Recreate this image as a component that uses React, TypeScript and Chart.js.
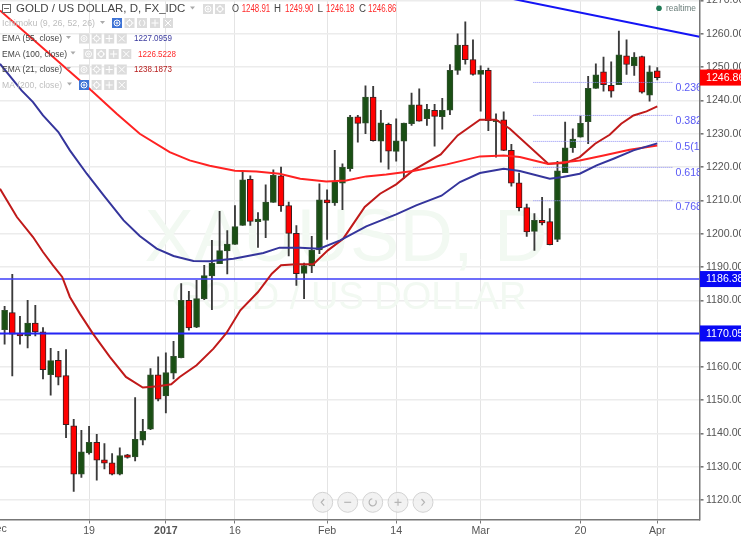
import React, { useEffect, useRef } from "react";
import { Chart, registerables } from "chart.js";

Chart.register(...registerables);

const opens = [1171.2,1176.3,1170,1169.3,1173.2,1170.5,1157.7,1162,1157.4,1142.3,1127.8,1134.2,1137.4,1132.1,1131.2,1127.8,1133.6,1133,1138,1141.3,1157.6,1151.3,1158.1,1162.8,1180,1171.9,1180.5,1187.3,1191,1194.8,1196.8,1202.5,1216.3,1203.6,1204,1209.4,1217.4,1208.4,1200.1,1188.1,1190.3,1195.1,1210.2,1209.2,1215.2,1219.5,1235.1,1233.2,1241,1227.8,1232.8,1224.7,1227.8,1233,1238.7,1234.5,1237,1235.1,1237.1,1249,1256.6,1252.3,1247.8,1249,1233.6,1234.2,1225,1215.3,1207.8,1200.7,1204,1203.6,1198.3,1218.3,1225.8,1229,1233.6,1243.6,1248.6,1244.5,1244.7,1253.4,1250.4,1253.2,1241.6,1248.91];
const closes = [1177,1169.8,1169.3,1173.2,1170.5,1159.2,1161.9,1156.9,1142.7,1127.8,1134.5,1137.4,1132,1131.1,1127.8,1133.4,1132.8,1138.3,1140.7,1157.6,1150.3,1158.3,1163.2,1180,1171.7,1180.5,1187.4,1191.2,1194.9,1196.9,1202.1,1216.2,1203.7,1204.4,1209.5,1217.5,1208.3,1200.1,1188,1190.4,1195,1210.2,1209.2,1215.5,1219.9,1235,1233.1,1241,1227.9,1233.3,1224.8,1227.9,1233.2,1238.7,1233.8,1237.3,1235.2,1237,1249,1256.6,1252.2,1247.8,1249,1233.9,1234.1,1225,1215.2,1207.8,1200.5,1204,1203.2,1196.7,1218.9,1225.8,1228.4,1233.1,1243.6,1247.7,1244.7,1242.8,1253.7,1250.8,1253,1242.5,1248.6,1246.86];
const highs = [1178.2,1187.8,1175.2,1180,1178.5,1171.8,1165.6,1164.7,1165.2,1144.3,1141,1142.2,1139.8,1137,1134,1135.7,1133.8,1150.8,1144.3,1159.5,1163,1164.2,1167.7,1185,1182.7,1186,1190.5,1198,1206.7,1200.9,1208.4,1218.8,1217.4,1206.3,1214.7,1219.2,1220,1209.5,1202.4,1191.2,1199.2,1215,1213.2,1225,1221,1235.5,1235.5,1244.4,1244.2,1237,1233.2,1234.5,1233.2,1242.2,1243.5,1238.8,1238.8,1240.6,1250.8,1260,1263.6,1258.2,1250.4,1249.7,1236,1236.6,1226.8,1218.2,1208.9,1206,1210.9,1207.5,1221.7,1233.5,1231.5,1235.3,1247.2,1251,1253,1251.6,1260.8,1258.2,1254.4,1253.3,1250.4,1249.9];
const lows = [1166.8,1157.3,1166.8,1165.7,1169.3,1156.4,1151.5,1154.6,1138.8,1122.6,1126.8,1133.8,1126,1129.4,1127.6,1127.6,1132.6,1131.8,1136.6,1141.2,1149.8,1146.2,1156.4,1162.7,1171,1171.8,1180.2,1177.2,1191,1187.9,1196.8,1202.5,1202.5,1195.9,1198.8,1209.4,1206.7,1193.3,1184.5,1180.5,1188.3,1194,1198.3,1208.5,1207.2,1218.8,1227.5,1230,1227.8,1221.5,1219.4,1221.8,1216.6,1232.5,1233.8,1232.5,1226.3,1231.4,1235.7,1247.8,1250.9,1247.6,1236.8,1230.9,1223,1224.9,1214.3,1206.8,1199.2,1195,1202.6,1196.6,1197.6,1218.3,1224.4,1229,1227,1243.6,1242.8,1241,1244.7,1247.8,1247.5,1242.2,1239.8,1246.18];

const ema21Days = [-0.6,1.6,3.7,5,6.3,7.5,8.5,9.8,11.5,13.7,15.8,18,20,21.7,22.8,25,27.2,28.9,30.7,33,34.8,36,38,40.2,42.1,44.1,46.9,48.9,51,53.2,56.8,59,61.9,64,65.8,70.8,73,74.9,76.9,78.8,80.3,81.9,83.6,85];
const ema21Values = [1213.5,1205,1199,1194.5,1190.5,1187,1181,1176,1170,1163,1157,1153.8,1154.2,1154.8,1157,1160.5,1165.5,1170.2,1177,1182.5,1188,1190.5,1190.8,1190.8,1195,1198.5,1208,1212,1214.8,1219,1223.8,1229.5,1234.2,1234.2,1231.5,1221,1221.2,1223,1227,1229.7,1233,1235.5,1236.7,1238.2];
const ema55Days = [-0.6,2.2,3.7,5,7,8.5,10.7,12.9,15.5,17.6,19.8,22,24.6,26.7,29.8,33.7,35.8,38.5,41,43.7,47.1,51,53.6,56.9,59.3,61.9,65,67.1,71,72.7,74.9,77.1,79.3,81.9,85];
const ema55Values = [1251,1243,1239.5,1235.5,1230.5,1225,1218,1211.5,1204,1199.3,1195.5,1193.3,1191.8,1191.7,1192.5,1194.2,1195.8,1195.8,1195.5,1198,1202.2,1205.8,1208.5,1211.4,1215.5,1218.2,1219.5,1218.8,1216.5,1217,1218,1220.5,1222.5,1225,1227.1];
const ema100Days = [-0.6,11.3,14.6,17.6,21.5,24.1,26.7,30,32.8,35.8,38.5,41.9,44.5,47.1,49.7,53.2,57.6,61.9,65,67.1,70.8,74.9,78,81.4,85];
const ema100Values = [1267,1243,1236,1230,1224.5,1222,1220.4,1218.9,1218.7,1218,1216.5,1215.7,1216,1217.2,1217.8,1218.8,1220.8,1223.2,1223.5,1223,1220.9,1222,1223.5,1225.2,1226.5];

const hLevels = [1186.38, 1170.05];
const trendDays = [65.8, 90.5];
const trendValues = [1270.66, 1259.1];
const fibDays = [68.86, 86.98];
const fibValues = [1245.4, 1235.5, 1227.7, 1219.9, 1209.9];
const fibLabels = ["0.236", "0.382", "0.5(1", "0.618", "0.768"];

const tickDays = [11, 21, 30, 42, 51, 62, 75, 85];
const tickLabels = ["19", "2017", "16", "Feb", "14", "Mar", "20", "Apr"];
const dayMin = -0.6;
const dayMax = 90.5;
const priceMin = 1114.2;
const priceMax = 1270.15;
const lastPrice = 1246.86;

const FONT = '"Liberation Sans", Arial, sans-serif';
const RED = "#ff0000";
const GREEN = "#1a4f14";

const zip = (xs: number[], ys: number[]) => xs.map((x, i) => ({ x, y: ys[i] }));

function square(c: CanvasRenderingContext2D, x: number, y: number, kind: string, on = false) {
  c.fillStyle = on ? "#3f74d6" : "#dcdcdc";
  c.fillRect(x, y, 10, 10);
  c.strokeStyle = "#fff";
  c.lineWidth = 1;
  c.beginPath();
  const m = x + 5, n = y + 5;
  if (kind === "eye") { c.arc(m, n, 3, 0, 7); c.moveTo(m + 1, n); c.arc(m, n, 1, 0, 7); }
  if (kind === "gear") { c.arc(m, n, 2.6, 0, 7); c.moveTo(m, n - 4); c.lineTo(m, n - 2.5); c.moveTo(m, n + 4); c.lineTo(m, n + 2.5); c.moveTo(m - 4, n); c.lineTo(m - 2.5, n); c.moveTo(m + 4, n); c.lineTo(m + 2.5, n); }
  if (kind === "plus") { c.moveTo(m - 3.5, n); c.lineTo(m + 3.5, n); c.moveTo(m, n - 3.5); c.lineTo(m, n + 3.5); }
  if (kind === "x") { c.moveTo(m - 3, n - 3); c.lineTo(m + 3, n + 3); c.moveTo(m + 3, n - 3); c.lineTo(m - 3, n + 3); }
  if (kind === "br") { c.moveTo(m - 1.5, n - 3); c.lineTo(m - 3, n); c.lineTo(m - 1.5, n + 3); c.moveTo(m + 1.5, n - 3); c.lineTo(m + 3, n); c.lineTo(m + 1.5, n + 3); }
  c.stroke();
}

function txt(c: CanvasRenderingContext2D, s: string, x: number, y: number, font: string, color: string, w?: number) {
  c.font = font;
  c.fillStyle = color;
  c.textAlign = "left";
  c.textBaseline = "middle";
  if (w) c.fillText(s, x, y, w);
  else c.fillText(s, x, y);
}

const arrow = (c: CanvasRenderingContext2D, x: number, y: number) => {
  c.fillStyle = "#aaa";
  c.beginPath();
  c.moveTo(x, y - 1.5);
  c.lineTo(x + 5, y - 1.5);
  c.lineTo(x + 2.5, y + 1.5);
  c.fill();
};

const watermark = {
  id: "watermark",
  beforeDatasetsDraw(chart: any) {
    const c = chart.ctx as CanvasRenderingContext2D;
    c.save();
    c.textAlign = "center";
    c.textBaseline = "alphabetic";
    c.fillStyle = "#f2f9f2";
    c.font = `74px ${FONT}`;
    c.fillText("XAUUSD, D", 346, 261);
    c.font = `38px ${FONT}`;
    c.fillText("GOLD / US DOLLAR", 349, 309);
    c.restore();
  },
};

const overlay = {
  id: "overlay",
  afterDraw(chart: any) {
    const c = chart.ctx as CanvasRenderingContext2D;
    const { x, y } = chart.scales;
    const area = chart.chartArea;
    c.save();

    // fib labels, clipped by the pane
    c.save();
    c.beginPath();
    c.rect(area.left, area.top, area.right - area.left, area.bottom - area.top);
    c.clip();
    fibValues.forEach((v, i) => {
      txt(c, fibLabels[i], 675.5, y.getPixelForValue(v) + 6, `10.6px ${FONT}`, "#5a5af5");
    });
    c.restore();

    // clipped "Dec" tick
    txt(c, "Dec", x.getPixelForValue(-1) - 9, 529, `10.6px ${FONT}`, "#555");

    // price labels
    const tag = (v: number, color: string) => {
      const py = y.getPixelForValue(v);
      c.fillStyle = color;
      c.fillRect(700, py - 8, 41, 16);
      txt(c, v.toFixed(2), 706, py + 0.5, `10.6px ${FONT}`, "#fff");
    };
    hLevels.forEach((v) => tag(v, "#0808f5"));
    tag(lastPrice, "#ff0000");

    // realtime
    c.fillStyle = "#1f7a55";
    c.beginPath();
    c.arc(659, 8.3, 2.8, 0, 7);
    c.fill();
    txt(c, "realtime", 666, 8.5, `9.5px ${FONT}`, "#6a7d7a", 30);

    // legend
    c.strokeStyle = "#666";
    c.lineWidth = 1;
    c.strokeRect(2.5, 4.5, 8, 8);
    c.beginPath();
    c.moveTo(4, 8.5);
    c.lineTo(9, 8.5);
    c.stroke();
    txt(c, "GOLD / US DOLLAR, D, FX_IDC", 16, 9.3, `11.5px ${FONT}`, "#444", 170);
    arrow(c, 190, 8);
    square(c, 203, 4, "eye");
    square(c, 215, 4, "gear");

    const ohlc: [string, number, string, number, number][] = [
      ["O", 232, "1248.91", 241.7, 28.5],
      ["H", 274, "1249.90", 285, 28.5],
      ["L", 317.5, "1246.18", 326, 28.5],
      ["C", 359, "1246.86", 368, 28.5],
    ];
    ohlc.forEach(([k, kx, v, vx, w]) => {
      txt(c, k, kx, 9.3, `10px ${FONT}`, "#444", 7);
      txt(c, v, vx, 9.3, `10px ${FONT}`, "#ff2a2a", w);
    });

    txt(c, "Ichimoku (9, 26, 52, 26)", 2, 23.5, `9.5px ${FONT}`, "#bdbdbd", 93);
    arrow(c, 100, 22.5);
    square(c, 112, 18, "eye", true);
    square(c, 124.5, 18, "gear");
    square(c, 137, 18, "br");
    square(c, 150, 18, "plus");
    square(c, 163, 18, "x");

    const rows: [string, number, number, number, string, string, number][] = [
      ["EMA (55, close)", 38.5, 60, 79, "1227.0959", "#3a3a9e", 134],
      ["EMA (100, close)", 54, 65, 83.5, "1226.5228", "#ff2a2a", 138],
      ["EMA (21, close)", 69.5, 60, 79, "1238.1873", "#b71c1c", 134],
    ];
    rows.forEach(([name, ry, w, sx, val, col, vx]) => {
      txt(c, name, 2, ry, `9.5px ${FONT}`, "#444", w);
      arrow(c, sx - 13, ry - 1);
      ["eye", "gear", "plus", "x"].forEach((k, i) => square(c, sx + i * 12.6, ry - 5, k));
      txt(c, val, vx, ry, `9.5px ${FONT}`, col, 38);
    });

    txt(c, "MA (200, close)", 2, 85, `9.5px ${FONT}`, "#bdbdbd", 60);
    arrow(c, 67, 84);
    square(c, 79, 80, "eye", true);
    square(c, 91.6, 80, "gear");
    square(c, 104.2, 80, "plus");
    square(c, 116.8, 80, "x");

    // navigation buttons
    const navX = [322.7, 347.7, 372.7, 398, 423];
    navX.forEach((bx, i) => {
      c.beginPath();
      c.arc(bx, 502.3, 10, 0, 7);
      c.fillStyle = "rgba(240,240,240,0.85)";
      c.fill();
      c.strokeStyle = "#d2d2d2";
      c.stroke();
      c.strokeStyle = "#b5b5b5";
      c.lineWidth = 1.2;
      c.beginPath();
      if (i === 0) { c.moveTo(bx + 1.5, 499); c.lineTo(bx - 1.5, 502.3); c.lineTo(bx + 1.5, 505.6); }
      if (i === 1 || i === 3) { c.moveTo(bx - 3.5, 502.3); c.lineTo(bx + 3.5, 502.3); }
      if (i === 3) { c.moveTo(bx, 498.8); c.lineTo(bx, 505.8); }
      if (i === 2) { c.arc(bx, 502.3, 3.6, -0.6, 4.6); }
      if (i === 4) { c.moveTo(bx - 1.5, 499); c.lineTo(bx + 1.5, 502.3); c.lineTo(bx - 1.5, 505.6); }
      c.stroke();
      c.lineWidth = 1;
    });
    c.restore();
  },
};

export default function App() {
  const ref = useRef<HTMLCanvasElement>(null);
  useEffect(() => {
    if (!ref.current) return;
    const days = opens.map((_, i) => i);
    const up = (i: number) => closes[i] >= opens[i];
    const line = (data: any[], color: string, width: number, dash?: number[]) => ({
      type: "line" as const,
      data,
      borderColor: color,
      borderWidth: width,
      borderDash: dash,
      pointRadius: 0,
      tension: 0,
      order: 1,
    });
    const chart = new Chart(ref.current, {
      type: "bar",
      data: {
        datasets: [
          {
            data: days.map((i) => ({ x: i, y: [lows[i], highs[i]] })),
            backgroundColor: "#3a3a3a",
            barThickness: 1.2,
            grouped: false,
            order: 3,
          },
          {
            data: days.map((i) => ({ x: i, y: [opens[i], closes[i]] })),
            backgroundColor: days.map((i) => (up(i) ? GREEN : RED)),
            borderColor: days.map((i) => (up(i) ? "#2f4f2c" : "#3a2020")),
            borderWidth: 1,
            borderSkipped: false,
            barThickness: 6,
            grouped: false,
            order: 2,
          },
          line(zip(ema55Days, ema55Values), "#35359c", 2),
          line(zip(ema100Days, ema100Values), "#ff2222", 2),
          line(zip(ema21Days, ema21Values), "#c01a1a", 2),
          ...fibValues.map((v) => line(fibDays.map((d) => ({ x: d, y: v })), "#8c8cf5", 1, [1, 1])),
          line(zip(trendDays, trendValues), "#1414f5", 2),
          line([dayMin, dayMax].map((d) => ({ x: d, y: hLevels[0] })), "#3c3cf8", 1.4),
          line([dayMin, dayMax].map((d) => ({ x: d, y: hLevels[1] })), "#2424f5", 2),
        ] as any,
      },
      options: {
        responsive: false,
        animation: false,
        layout: { padding: 0 },
        plugins: { legend: { display: false }, tooltip: { enabled: false } },
        scales: {
          x: {
            type: "linear",
            offset: false,
            min: dayMin,
            max: dayMax,
            afterBuildTicks: (s: any) => {
              s.ticks = tickDays.map((value) => ({ value }));
            },
            afterFit: (s: any) => {
              s.height = 16.5;
              s.paddingLeft = 0;
              s.paddingRight = 0;
            },
            border: { color: "#777", width: 1.5 },
            grid: { offset: false, color: "#e4e4e4", lineWidth: 1, tickLength: 4, tickColor: "#777" },
            ticks: {
              autoSkip: false,
              maxRotation: 0,
              padding: 1,
              color: "#555",
              font: (ctx: any) => ({
                family: FONT,
                size: 10.6,
                weight: ctx.tick && ctx.tick.value === 21 ? "bold" : "normal",
              }),
              callback: (v: any) => tickLabels[tickDays.indexOf(v)] ?? "",
            },
          },
          y: {
            position: "right",
            min: priceMin,
            max: priceMax,
            afterFit: (s: any) => {
              s.width = 41.5;
              s.paddingTop = 0;
              s.paddingBottom = 0;
            },
            border: { color: "#777", width: 1.5 },
            grid: { color: "#ececec", lineWidth: 1.6, tickLength: 4, tickColor: "#777" },
            ticks: {
              stepSize: 10,
              includeBounds: false,
              padding: 2.5,
              color: "#555",
              font: { family: FONT, size: 10.6 },
              callback: (v: any) => Number(v).toFixed(2),
            },
          },
        },
      } as any,
      plugins: [watermark, overlay],
    });
    return () => chart.destroy();
  }, []);
  return (
    <div style={{ position: "fixed", left: 0, top: 0, width: 741, height: 536, background: "#fff" }}>
      <canvas ref={ref} width={741} height={536} style={{ display: "block" }} />
    </div>
  );
}
